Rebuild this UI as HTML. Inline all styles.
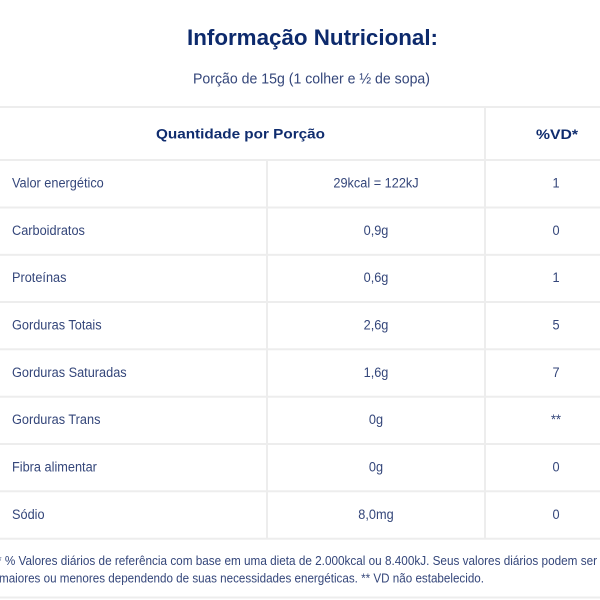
<!DOCTYPE html>
<html>
<head>
<meta charset="utf-8">
<style>
html,body{margin:0;padding:0;background:#fff;}
svg{display:block;}
text{font-family:"Liberation Sans",sans-serif;}
.b text{fill:#34467a;font-size:14px;}
.h{fill:#0f2c6e;font-size:14px;font-weight:bold;}
</style>
</head>
<body>
<svg width="600" height="600" viewBox="0 0 600 600" xmlns="http://www.w3.org/2000/svg">
<rect width="600" height="600" fill="#fff"/>
<text x="187" y="45" font-size="22" font-weight="bold" fill="#0d2a6c" textLength="251" lengthAdjust="spacingAndGlyphs">Informação Nutricional:</text>
<text x="193" y="83.5" font-size="15" fill="#34467a" textLength="237" lengthAdjust="spacingAndGlyphs">Porção de 15g (1 colher e ½ de sopa)</text>

<g fill="#ededed">
<rect x="0" y="106" width="600" height="2"/>
<rect x="0" y="159" width="600" height="2"/>
<rect x="0" y="206.5" width="600" height="2"/>
<rect x="0" y="253.8" width="600" height="2"/>
<rect x="0" y="301" width="600" height="2"/>
<rect x="0" y="348.3" width="600" height="2"/>
<rect x="0" y="395.7" width="600" height="2"/>
<rect x="0" y="443" width="600" height="2"/>
<rect x="0" y="490.3" width="600" height="2"/>
<rect x="0" y="537.7" width="600" height="2"/>
<rect x="0" y="596.5" width="600" height="2"/>
<rect x="266" y="160" width="2" height="379"/>
<rect x="484" y="107" width="2" height="432"/>
</g>

<text class="h" x="156" y="138.5" textLength="169" lengthAdjust="spacingAndGlyphs">Quantidade por Porção</text>
<text class="h" x="536" y="139" textLength="42" lengthAdjust="spacingAndGlyphs">%VD*</text>

<g class="b">
<text transform="translate(12,187.5) scale(0.91,1)">Valor energético</text>
<text transform="translate(376,187.5) scale(0.91,1)" text-anchor="middle">29kcal = 122kJ</text>
<text transform="translate(556,187.5) scale(0.91,1)" text-anchor="middle">1</text>

<text transform="translate(12,234.8) scale(0.91,1)">Carboidratos</text>
<text transform="translate(376,234.8) scale(0.91,1)" text-anchor="middle">0,9g</text>
<text transform="translate(556,234.8) scale(0.91,1)" text-anchor="middle">0</text>

<text transform="translate(12,282.1) scale(0.91,1)">Proteínas</text>
<text transform="translate(376,282.1) scale(0.91,1)" text-anchor="middle">0,6g</text>
<text transform="translate(556,282.1) scale(0.91,1)" text-anchor="middle">1</text>

<text transform="translate(12,329.5) scale(0.91,1)">Gorduras Totais</text>
<text transform="translate(376,329.5) scale(0.91,1)" text-anchor="middle">2,6g</text>
<text transform="translate(556,329.5) scale(0.91,1)" text-anchor="middle">5</text>

<text transform="translate(12,376.8) scale(0.91,1)">Gorduras Saturadas</text>
<text transform="translate(376,376.8) scale(0.91,1)" text-anchor="middle">1,6g</text>
<text transform="translate(556,376.8) scale(0.91,1)" text-anchor="middle">7</text>

<text transform="translate(12,424.1) scale(0.91,1)">Gorduras Trans</text>
<text transform="translate(376,424.1) scale(0.91,1)" text-anchor="middle">0g</text>
<text transform="translate(556,424.1) scale(0.91,1)" text-anchor="middle">**</text>

<text transform="translate(12,471.5) scale(0.91,1)">Fibra alimentar</text>
<text transform="translate(376,471.5) scale(0.91,1)" text-anchor="middle">0g</text>
<text transform="translate(556,471.5) scale(0.91,1)" text-anchor="middle">0</text>

<text transform="translate(12,518.8) scale(0.91,1)">Sódio</text>
<text transform="translate(376,518.8) scale(0.91,1)" text-anchor="middle">8,0mg</text>
<text transform="translate(556,518.8) scale(0.91,1)" text-anchor="middle">0</text>
</g>

<text x="-3" y="565" font-size="13" fill="#34467a" textLength="600" lengthAdjust="spacingAndGlyphs">* % Valores diários de referência com base em uma dieta de 2.000kcal ou 8.400kJ. Seus valores diários podem ser</text>
<text x="-1" y="582.5" font-size="13" fill="#34467a" textLength="485" lengthAdjust="spacingAndGlyphs">maiores ou menores dependendo de suas necessidades energéticas. ** VD não estabelecido.</text>
</svg>
</body>
</html>
